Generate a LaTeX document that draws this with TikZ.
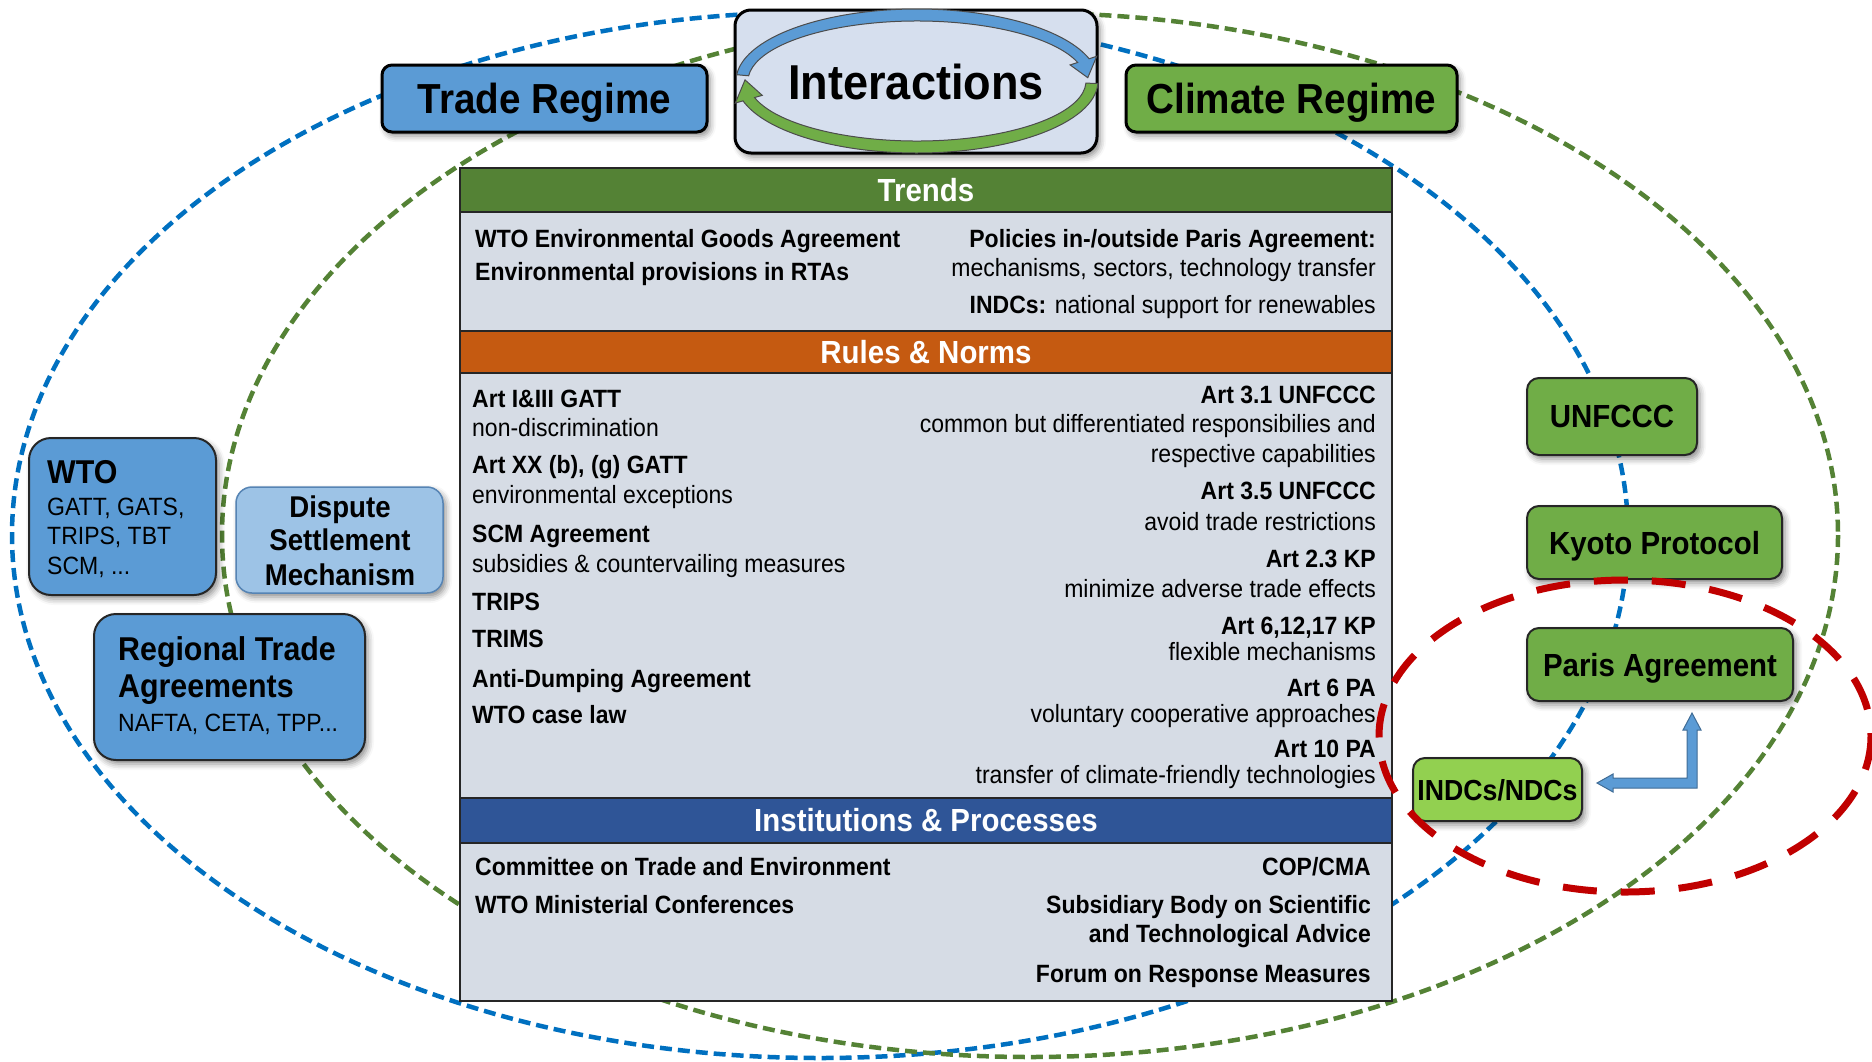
\documentclass[tikz,border=0pt]{standalone}
\usepackage{fontspec}
\setmainfont[FakeStretch=0.92]{Liberation Sans}
\usetikzlibrary{shadows.blur}

\definecolor{tradeblue}{RGB}{91,155,213}
\definecolor{climategreen}{RGB}{112,173,71}
\definecolor{ndcgreen}{RGB}{146,208,80}
\definecolor{interfill}{RGB}{214,223,238}
\definecolor{dsmfill}{RGB}{157,195,230}
\definecolor{dsmline}{RGB}{86,132,180}
\definecolor{trendgreen}{RGB}{84,130,53}
\definecolor{ruleorange}{RGB}{197,90,17}
\definecolor{instblue}{RGB}{47,85,151}
\definecolor{tblbody}{RGB}{214,220,229}
\definecolor{ellblue}{RGB}{0,112,192}
\definecolor{ellgreen}{RGB}{84,130,53}
\definecolor{ellred}{RGB}{192,0,0}

\newcommand{\txtsize}{\fontsize{25}{30}\selectfont}

\tikzset{
  shade box/.style={blur shadow={shadow xshift=3pt, shadow yshift=-4pt, shadow blur radius=6pt, shadow opacity=45}},
  regime/.style={draw=black, line width=3, rounded corners=10, inner sep=0, shade box, text depth=0pt,
                 font=\fontsize{42}{48}\selectfont\bfseries},
  orgbox/.style={draw=black!85, line width=2, rounded corners=12, inner sep=0, shade box, text depth=0pt,
                 font=\fontsize{32}{38}\selectfont\bfseries},
  tblhead/.style={draw=black!85, line width=2, minimum width=932, inner sep=0, text=white,
                  font=\fontsize{32}{36}\selectfont\bfseries},
  tblbox/.style={draw=black!85, line width=2, minimum width=932, inner sep=0, fill=tblbody},
  lbl/.style={anchor=base west, inner sep=0, font=\txtsize},
  rlbl/.style={anchor=base east, inner sep=0, font=\txtsize},
  clbl/.style={anchor=base, inner sep=0},
  regime ring/.style={line width=4.5, dash pattern=on 12pt off 6pt},
}

\begin{document}
\begin{tikzpicture}[x=1pt,y=-1pt]
	\useasboundingbox (0,0) rectangle (1872,1061);

	% the two regimes
	\draw[regime ring, ellblue] (820,535) ellipse [x radius=808, y radius=523];
	\draw[regime ring, ellgreen] (1030,535) ellipse [x radius=808, y radius=522];

	% central table
	\node[tblbox, minimum height=119] (trendsbody) at (926,271.5) {};
	\node[tblbox, minimum height=425] (rulesbody) at (926,585.5) {};
	\node[tblbox, minimum height=158] (instbody) at (926,922) {};
	\node[tblhead, fill=trendgreen, minimum height=44] (trends) at (926,190) {Trends};
	\node[tblhead, fill=ruleorange, minimum height=42] (rules) at (926,352) {Rules \& Norms};
	\node[tblhead, fill=instblue, minimum height=45] (inst) at (926,820.5) {Institutions \& Processes};

	\node[lbl] (ega) at (475,247) {\bfseries WTO Environmental Goods Agreement};
	\node[lbl] (rtaenv) at (475,280) {\bfseries Environmental provisions in RTAs};
	\node[rlbl] (pol) at (1376,247) {\bfseries Policies in-/outside Paris Agreement:};
	\node[rlbl] (mech) at (1376,276) {mechanisms, sectors, technology transfer};
	\node[rlbl] (indctrend) at (1376,313) {\textbf{INDCs:} national support for renewables};

	\foreach \y/\t in {407/{\bfseries Art I\&III GATT}, 436/{non-discrimination},
	                   473/{\bfseries Art XX (b), (g) GATT}, 503/{environmental exceptions},
	                   542/{\bfseries SCM Agreement}, 572/{subsidies \& countervailing measures},
	                   610/{\bfseries TRIPS}, 647/{\bfseries TRIMS},
	                   687/{\bfseries Anti-Dumping Agreement}, 723/{\bfseries WTO case law}}{
	  \node[lbl] (wtorule\y) at (472,\y) {\t};
	}
	\foreach \y/\t in {403/{\bfseries Art 3.1 UNFCCC}, 432/{common but differentiated responsibilies and},
	                   462/{respective capabilities}, 499/{\bfseries Art 3.5 UNFCCC},
	                   530/{avoid trade restrictions}, 567/{\bfseries Art 2.3 KP},
	                   597/{minimize adverse trade effects}, 634/{\bfseries Art 6,12,17 KP},
	                   660/{flexible mechanisms}, 696/{\bfseries Art 6 PA},
	                   722/{voluntary cooperative approaches}, 757/{\bfseries Art 10 PA},
	                   783/{transfer of climate-friendly technologies}}{
	  \node[rlbl] (climrule\y) at (1376,\y) {\t};
	}

	\node[lbl] (cte) at (475,875) {\bfseries Committee on Trade and Environment};
	\node[lbl] (minconf) at (475,913) {\bfseries WTO Ministerial Conferences};
	\node[rlbl] (cop) at (1371,875) {\bfseries COP/CMA};
	\node[rlbl] (sbsta) at (1371,913) {\bfseries Subsidiary Body on Scientific};
	\node[rlbl] (sbstb) at (1371,942) {\bfseries and Technological Advice};
	\node[rlbl] (forum) at (1371,982) {\bfseries Forum on Response Measures};

	% headline boxes
	\node[regime, fill=tradeblue, minimum width=325, minimum height=67] (trade) at (544.5,98.5) {Trade Regime};
	\node[regime, fill=climategreen, minimum width=331, minimum height=67] (climate) at (1291.5,98.5) {Climate Regime};
	\node[regime, fill=interfill, rounded corners=16, minimum width=362, minimum height=143,
	      font=\fontsize{49}{56}\selectfont\bfseries] (inter) at (916,81.5) {Interactions};

	% circular arrows
	\filldraw[draw=black!70, line width=1, fill=tradeblue]
	  ({917+181*cos(-175)},{81+72*sin(-175)}) arc[start angle=-175, end angle=-18, x radius=181, y radius=72]
	  -- ({917+189*cos(-18)},{81+80*sin(-18)})
	  -- ({917+171*cos(-3)},{81+63*sin(-3)})
	  -- ({917+161*cos(-18)},{81+52*sin(-18)})
	  -- ({917+169*cos(-18)},{81+60*sin(-18)})
	  arc[start angle=-18, end angle=-175, x radius=169, y radius=60] -- cycle;
	\filldraw[draw=black!70, line width=1, fill=climategreen]
	  ({917+181*cos(2)},{81+72*sin(2)}) arc[start angle=2, end angle=164, x radius=181, y radius=72]
	  -- ({917+189*cos(164)},{81+80*sin(164)})
	  -- ({917+172*cos(181)},{81+64*sin(181)})
	  -- ({917+161*cos(164)},{81+52*sin(164)})
	  -- ({917+169*cos(164)},{81+60*sin(164)})
	  arc[start angle=164, end angle=2, x radius=169, y radius=60] -- cycle;

	% trade side
	\node[orgbox, fill=tradeblue, rounded corners=22, minimum width=187, minimum height=157] (wto) at (122.5,516.5) {};
	\node[lbl, font=\fontsize{33}{38}\selectfont\bfseries] (wtoname) at (47,483) {WTO};
	\node[lbl] (wtoa) at (47,515) {GATT, GATS,};
	\node[lbl] (wtob) at (47,544) {TRIPS, TBT};
	\node[lbl] (wtoc) at (47,574) {SCM, ...};

	\node[draw=dsmline, line width=1.5, fill=dsmfill, rounded corners=16, inner sep=0, shade box,
	      minimum width=207, minimum height=106] (dsm) at (339.5,540) {};
	\foreach \y/\t/\n in {517/Dispute/a, 550/Settlement/b, 585/Mechanism/c}{
	  \node[clbl, font=\fontsize{30}{34}\selectfont\bfseries] (dsm\n) at (340,\y) {\t};
	}

	\node[orgbox, fill=tradeblue, rounded corners=22, minimum width=271, minimum height=146] (rta) at (229.5,687) {};
	\node[lbl, font=\fontsize{33}{38}\selectfont\bfseries] (rtaa) at (118,660) {Regional Trade};
	\node[lbl, font=\fontsize{33}{38}\selectfont\bfseries] (rtab) at (118,697) {Agreements};
	\node[lbl] (rtac) at (118,731) {NAFTA, CETA, TPP...};

	% climate side
	\node[orgbox, fill=climategreen, minimum width=170, minimum height=77] (unfccc) at (1612,416.5) {UNFCCC};
	\node[orgbox, fill=climategreen, minimum width=255, minimum height=73] (kyoto) at (1654.5,542.5) {Kyoto Protocol};
	\node[orgbox, fill=climategreen, minimum width=266, minimum height=73] (paris) at (1660,664.5) {Paris Agreement};
	\node[orgbox, fill=ndcgreen, minimum width=169, minimum height=63,
	      font=\fontsize{29}{34}\selectfont\bfseries] (ndc) at (1497.5,789.5) {INDCs/NDCs};

	\filldraw[draw=black!30!tradeblue, line width=1, fill=tradeblue]
	  (1692,713) -- (1701,730) -- (1697,730) -- (1697,788) -- (1613,788) -- (1613,792)
	  -- (1597,783) -- (1613,774) -- (1613,778) -- (1687,778) -- (1687,730) -- (1683,730) -- cycle;

	\draw[ellred, line width=7, dash pattern=on 34pt off 24pt] (1625,736) ellipse [x radius=246, y radius=156];

\end{tikzpicture}
\end{document}
